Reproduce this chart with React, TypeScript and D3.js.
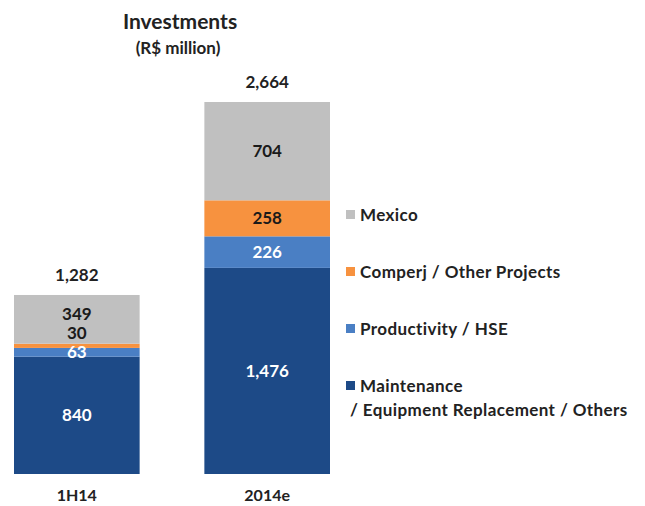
import React from 'react';
import * as d3 from 'd3';

const width = 645;
const height = 506;

// data
const categories = ['1H14', '2014e'];
const series = ['Maintenance / Equipment Replacement / Others', 'Productivity / HSE', 'Comperj / Other Projects', 'Mexico'];
const maintenance = [840, 1476];
const productivity = [63, 226];
const comperj = [30, 258];
const mexico = [349, 704];
const totals = [1282, 2664];

const legendLabels = [['Mexico'], ['Comperj / Other Projects'], ['Productivity / HSE'], ['Maintenance', '/ Equipment Replacement / Others']];

const colors = ['#1d4a87', '#4a7fc4', '#f7923f', '#c0c0c0'];
const labelColors = ['#ffffff', '#ffffff', '#1a1a1a', '#1a1a1a'];
const font = 'Lato, "Open Sans", sans-serif';

const baseline = 474;
const top = 102;

const x = d3.scaleBand<string>().domain(categories).range([14, 330]).paddingInner(0.34).paddingOuter(0);
const y = d3.scaleLinear().domain([0, d3.max(totals) as number]).range([baseline, top]);

const rows = categories.map((c, i) => ({
	category: c,
	[series[0]]: maintenance[i],
	[series[1]]: productivity[i],
	[series[2]]: comperj[i],
	[series[3]]: mexico[i],
}));
const stacked = d3.stack<any>().keys(series)(rows);

function fmt(v: number) {
	return d3.format(',')(v);
}

export default function App() {
	// place value labels bottom-up, keep them from overlapping
	const labels: any[] = [];
	categories.forEach((c, ci) => {
		let prev = Infinity;
		stacked.forEach((layer, li) => {
			const d = layer[ci];
			const center = (y(d[0]) + y(d[1])) / 2;
			const ly = Math.min(center, prev - 19);
			prev = ly;
			labels.push({ key: c + li, x: (x(c) as number) + x.bandwidth() / 2, y: ly, text: fmt(d[1] - d[0]), fill: labelColors[li] });
		});
	});

	return (
		<svg width={width} height={height} style={{ position: 'absolute', left: 0, top: 0, background: '#fff' }} fontFamily={font}>
			<text x={180} y={29} textAnchor="middle" fontSize={21} fontWeight="bold" fill="#222">Investments</text>
			<text x={178} y={54} textAnchor="middle" fontSize={17} fontWeight="bold" fill="#222">(R$ million)</text>

			{stacked.map((layer, li) => (
				<g key={layer.key} fill={colors[li]}>
					{layer.map((d, ci) => (
						<rect key={ci} x={x(categories[ci])} width={x.bandwidth()} y={y(d[1])} height={y(d[0]) - y(d[1])} />
					))}
				</g>
			))}

			{labels.map((l) => (
				<text key={l.key} x={l.x} y={l.y} dy="0.35em" textAnchor="middle" fontSize={17} fontWeight="bold" fill={l.fill}>{l.text}</text>
			))}

			{categories.map((c, i) => (
				<text key={c} x={(x(c) as number) + x.bandwidth() / 2} y={y(totals[i]) - 14} textAnchor="middle" fontSize={17} fontWeight="bold" fill="#222">{fmt(totals[i])}</text>
			))}

			{categories.map((c) => (
				<text key={c} x={(x(c) as number) + x.bandwidth() / 2} y={501} textAnchor="middle" fontSize={16} fontWeight="bold" fill="#222">{c}</text>
			))}

			{legendLabels.map((lines, i) => {
				const ly = 215 + i * 57;
				return (
					<g key={i} transform={`translate(346, ${ly})`}>
						<rect x={0} y={-5} width={9} height={9} fill={colors[series.length - 1 - i]} />
						{lines.map((t, j) => (
							<text key={j} x={t.startsWith('/') ? 4 : 14} y={j * 24} dy="0.35em" fontSize={17} letterSpacing={0.4} fontWeight="bold" fill="#222">{t}</text>
						))}
					</g>
				);
			})}
		</svg>
	);
}
